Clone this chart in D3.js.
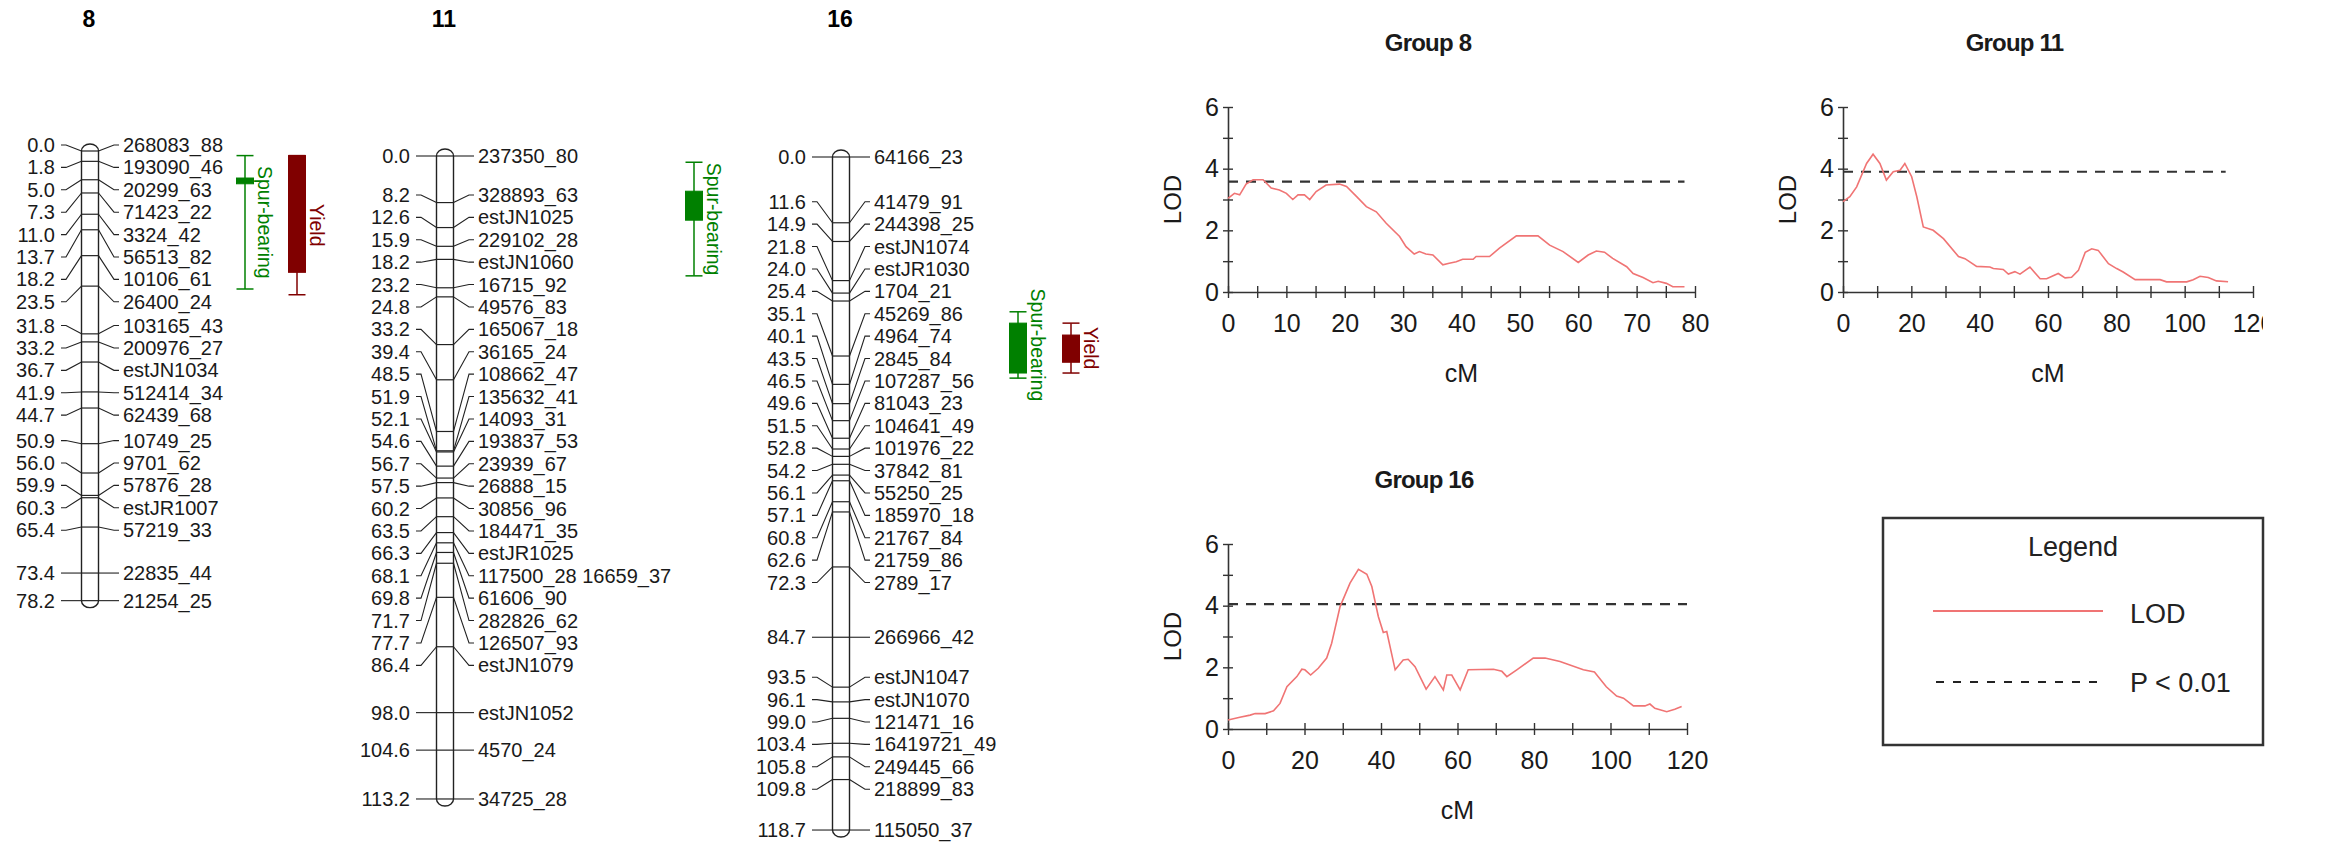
<!DOCTYPE html>
<html>
<head>
<meta charset="utf-8">
<script src="https://cdn.jsdelivr.net/npm/d3@7"></script>
<style>
  body { margin: 0; background: #fff; }
  svg { display: block; font-family: "Liberation Sans", Arial, sans-serif; }
</style>
</head>
<body>
<div id="chart"></div>
<script>
// ---- linkage group 8 ----
const group8Pos = [0.0, 1.8, 5.0, 7.3, 11.0, 13.7, 18.2, 23.5, 31.8, 33.2, 36.7, 41.9, 44.7, 50.9, 56.0, 59.9, 60.3, 65.4, 73.4, 78.2];
const group8Markers = ["268083_88", "193090_46", "20299_63", "71423_22", "3324_42", "56513_82", "10106_61", "26400_24",
  "103165_43", "200976_27", "estJN1034", "512414_34", "62439_68", "10749_25", "9701_62", "57876_28", "estJR1007",
  "57219_33", "22835_44", "21254_25"];

// ---- linkage group 11 ----
const group11Pos = [0.0, 8.2, 12.6, 15.9, 18.2, 23.2, 24.8, 33.2, 39.4, 48.5, 51.9, 52.1, 54.6, 56.7, 57.5, 60.2, 63.5,
  66.3, 68.1, 69.8, 71.7, 77.7, 86.4, 98.0, 104.6, 113.2];
const group11Markers = ["237350_80", "328893_63", "estJN1025", "229102_28", "estJN1060", "16715_92", "49576_83",
  "165067_18", "36165_24", "108662_47", "135632_41", "14093_31", "193837_53", "23939_67", "26888_15", "30856_96",
  "184471_35", "estJR1025", "117500_28 16659_37", "61606_90", "282826_62", "126507_93", "estJN1079", "estJN1052",
  "4570_24", "34725_28"];

// ---- linkage group 16 ----
const group16Pos = [0.0, 11.6, 14.9, 21.8, 24.0, 25.4, 35.1, 40.1, 43.5, 46.5, 49.6, 51.5, 52.8, 54.2, 56.1, 57.1, 60.8,
  62.6, 72.3, 84.7, 93.5, 96.1, 99.0, 103.4, 105.8, 109.8, 118.7];
const group16Markers = ["64166_23", "41479_91", "244398_25", "estJN1074", "estJR1030", "1704_21", "45269_86", "4964_74",
  "2845_84", "107287_56", "81043_23", "104641_49", "101976_22", "37842_81", "55250_25", "185970_18", "21767_84",
  "21759_86", "2789_17", "266966_42", "estJN1047", "estJN1070", "121471_16", "16419721_49", "249445_66", "218899_83",
  "115050_37"];

// ---- QTL intervals (cM): box = 1-LOD, whisker = 2-LOD ----
const qtlGroup = ["8", "8", "11", "16", "16"];
const qtlTrait = ["Spur-bearing", "Yield", "Spur-bearing", "Spur-bearing", "Yield"];
const qtlBoxFrom = [4.7, 0.8, 6.2, 29.3, 31.4];
const qtlBoxTo = [5.7, 21.1, 11.3, 38.1, 36.2];
const qtlWhiskerFrom = [0.8, 0.8, 1.1, 27.3, 29.3];
const qtlWhiskerTo = [24.0, 25.0, 21.1, 39.0, 38.1];

// ---- LOD profiles ----
const lod8cM = [0, 1.1, 2.0, 3.1, 4.3, 6.0, 7.4, 8.8, 10.0, 11.1, 12.0, 13.1, 14.0, 15.1, 16.8, 19.1, 20.3, 22.0, 23.7,
  25.4, 27.1, 29.4, 30.5, 31.9, 32.8, 33.9, 35.1, 36.8, 37.9, 39.1, 40.2, 42.0, 42.5, 44.8, 46.5, 49.4, 53.1, 55.1, 57.4,
  60.0, 61.7, 63.1, 64.5, 65.9, 68.3, 69.4, 71.1, 72.8, 73.7, 75.1, 76.2, 78.2];
const lod8 = [3.04, 3.2, 3.15, 3.5, 3.64, 3.64, 3.37, 3.31, 3.2, 3.0, 3.15, 3.15, 3.0, 3.26, 3.47, 3.5, 3.42, 3.1, 2.77,
  2.6, 2.23, 1.8, 1.47, 1.23, 1.31, 1.23, 1.2, 0.88, 0.93, 0.98, 1.06, 1.06, 1.15, 1.15, 1.42, 1.82, 1.82, 1.52, 1.31,
  0.96, 1.2, 1.33, 1.29, 1.09, 0.82, 0.6, 0.47, 0.3, 0.35, 0.28, 0.17, 0.17];

const lod11cM = [0, 2.0, 4.0, 6.9, 8.8, 10.8, 12.7, 14.7, 16.7, 18.1, 20.1, 21.6, 23.5, 26.4, 29.4, 33.8, 35.7, 39.1,
  43.0, 44.0, 46.9, 48.4, 50.3, 51.8, 54.7, 57.7, 59.6, 63.0, 65.0, 66.9, 68.9, 70.9, 72.8, 74.7, 77.7, 80.1, 82.0, 85.5,
  92.8, 94.7, 100.6, 102.5, 104.5, 106.9, 109.3, 112.7];
const lod11 = [2.93, 3.09, 3.41, 4.17, 4.47, 4.17, 3.63, 3.9, 3.95, 4.17, 3.74, 3.09, 2.11, 2.0, 1.73, 1.15, 1.08, 0.83,
  0.81, 0.76, 0.73, 0.58, 0.66, 0.58, 0.81, 0.43, 0.43, 0.6, 0.46, 0.48, 0.7, 1.29, 1.4, 1.35, 0.92, 0.76, 0.65, 0.4,
  0.4, 0.33, 0.33, 0.4, 0.51, 0.47, 0.36, 0.33];

const lod16cM = [0, 3.1, 5.8, 7.1, 9.7, 11.9, 13.6, 15.4, 18.0, 19.3, 20.1, 21.6, 23.6, 25.8, 27.1, 29.3, 31.9, 34.1,
  36.3, 37.6, 39.3, 40.6, 41.5, 43.7, 45.8, 47.1, 48.9, 51.8, 54.1, 56.3, 57.2, 58.5, 60.7, 62.8, 69.4, 71.6, 72.9, 75.5,
  79.8, 82.9, 86.8, 92.9, 95.8, 98.9, 101.6, 103.4, 106.0, 109.0, 110.3, 111.6, 114.7, 116.8, 118.6];
const lod16 = [0.29, 0.38, 0.45, 0.5, 0.5, 0.59, 0.83, 1.37, 1.7, 1.94, 1.92, 1.75, 1.97, 2.3, 2.78, 3.97, 4.73, 5.18,
  5.02, 4.62, 3.65, 3.13, 3.16, 1.92, 2.24, 2.26, 2.02, 1.29, 1.7, 1.27, 1.75, 1.75, 1.27, 1.92, 1.94, 1.87, 1.7, 1.92,
  2.3, 2.3, 2.19, 1.92, 1.85, 1.37, 1.07, 1.0, 0.75, 0.75, 0.81, 0.67, 0.56, 0.64, 0.73];

// P < 0.01 thresholds
const threshold8 = 3.58, threshold11 = 3.9, threshold16 = 4.05;

const legendLabels = ["LOD", "P < 0.01"];

const width = 2346, height = 842;
const lodColor = "#f07474";
const axisColor = "#333";
const traitColor = { "Spur-bearing": "#008000", "Yield": "#800000" };

const svg = d3.select("#chart").append("svg")
  .attr("width", width)
  .attr("height", height);

svg.append("rect").attr("width", width).attr("height", height).attr("fill", "#fff");

// spread labels so they don't overlap (pool adjacent violators, centred blocks)
function spreadLabels(ys, gap, minY) {
  const blocks = [];
  ys.forEach((y, i) => {
    const z = y - i * gap;
    let b = { start: i, end: i, max: z, min: z, val: z };
    while (blocks.length && blocks[blocks.length - 1].val > b.val) {
      const p = blocks.pop();
      b = { start: p.start, end: b.end, max: Math.max(p.max, b.max), min: Math.min(p.min, b.min) };
      b.val = (b.max + b.min) / 2;
    }
    blocks.push(b);
  });
  const out = [];
  blocks.forEach(b => {
    const q = Math.max(b.val, minY);
    for (let i = b.start; i <= b.end; i++) out[i] = q + i * gap;
  });
  return out;
}

const maps = [
  { name: "8", pos: group8Pos, markers: group8Markers, cx: 90, top: 151, pxPerCM: 5.75, font: 20, gap: 22.4,
    qtlX: { "Spur-bearing": 155, "Yield": 207 } },
  { name: "11", pos: group11Pos, markers: group11Markers, cx: 445, top: 156, pxPerCM: 5.68, font: 20, gap: 22.4,
    qtlX: { "Spur-bearing": 249 } },
  { name: "16", pos: group16Pos, markers: group16Markers, cx: 841, top: 157, pxPerCM: 5.67, font: 20, gap: 22.4,
    qtlX: { "Spur-bearing": 177, "Yield": 230 } }
];

maps.forEach(m => drawLinkageGroup(m));
function drawLinkageGroup(m) {
  const barW = 17;
  const maxPos = d3.max(m.pos);
  const y = d3.scaleLinear().domain([0, maxPos]).range([m.top, m.top + maxPos * m.pxPerCM]);
  const g = svg.append("g");

  g.append("text")
    .attr("x", m.cx - 1)
    .attr("y", 27)
    .attr("text-anchor", "middle")
    .attr("font-weight", "bold")
    .attr("font-size", 23)
    .text(m.name);

  // chromosome bar
  g.append("rect")
    .attr("x", m.cx - barW / 2)
    .attr("y", y(0) - 7)
    .attr("width", barW)
    .attr("height", y(maxPos) - y(0) + 14)
    .attr("rx", barW / 2)
    .attr("ry", 7)
    .attr("fill", "#fff")
    .attr("stroke", "#222")
    .attr("stroke-width", 1.4);

  const labelY = spreadLabels(m.pos.map(d => y(d)), m.gap, y(0) - 6);

  m.pos.forEach((p, i) => {
    const my = y(p), ly = labelY[i];
    g.append("line")
      .attr("x1", m.cx - barW / 2).attr("x2", m.cx + barW / 2)
      .attr("y1", my).attr("y2", my)
      .attr("stroke", "#222").attr("stroke-width", 1.2);
    g.append("path")
      .attr("d", `M${m.cx - 29},${ly}H${m.cx - 24}L${m.cx - barW / 2},${my}`)
      .attr("fill", "none").attr("stroke", "#222").attr("stroke-width", 1.1);
    g.append("path")
      .attr("d", `M${m.cx + barW / 2},${my}L${m.cx + 24},${ly}H${m.cx + 29}`)
      .attr("fill", "none").attr("stroke", "#222").attr("stroke-width", 1.1);
    g.append("text")
      .attr("x", m.cx - 35).attr("y", ly).attr("dy", "0.35em")
      .attr("text-anchor", "end")
      .attr("font-size", m.font)
      .attr("fill", "#1a1a1a")
      .text(p.toFixed(1));
    g.append("text")
      .attr("x", m.cx + 33).attr("y", ly).attr("dy", "0.35em")
      .attr("font-size", m.font)
      .attr("fill", "#1a1a1a")
      .text(m.markers[i]);
  });

  // QTL bars
  qtlGroup.forEach((grp, i) => {
    if (grp !== m.name) return;
    const trait = qtlTrait[i];
    const col = traitColor[trait];
    const qx = m.cx + m.qtlX[trait];
    const bw = 17;
    const w0 = y(qtlWhiskerFrom[i]), w1 = y(qtlWhiskerTo[i]);
    g.append("line").attr("x1", qx).attr("x2", qx).attr("y1", w0).attr("y2", w1)
      .attr("stroke", col).attr("stroke-width", 1.5);
    [w0, w1].forEach(wy => {
      g.append("line").attr("x1", qx - bw / 2).attr("x2", qx + bw / 2).attr("y1", wy).attr("y2", wy)
        .attr("stroke", col).attr("stroke-width", 1.5);
    });
    g.append("rect")
      .attr("x", qx - bw / 2)
      .attr("y", y(qtlBoxFrom[i]))
      .attr("width", bw)
      .attr("height", y(qtlBoxTo[i]) - y(qtlBoxFrom[i]))
      .attr("fill", col)
      .attr("stroke", col);
    const ty = (w0 + w1) / 2;
    g.append("text")
      .attr("transform", `translate(${qx + 20},${ty}) rotate(90)`)
      .attr("text-anchor", "middle")
      .attr("dy", "0.35em")
      .attr("font-size", m.font - 0.5)
      .attr("fill", col)
      .text(trait);
  });
}

// ---- LOD panels ----
svg.append("clipPath").attr("id", "edge")
  .append("rect").attr("x", 0).attr("y", 0).attr("width", 2263).attr("height", height);

const panels = [
  { title: "Group 8", cM: lod8cM, lod: lod8, thr: threshold8, left: 1228, right: 1695, top: 107, bottom: 292,
    xMax: 80, step: 5, labelStep: 10, thrEnd: 78.2 },
  { title: "Group 11", cM: lod11cM, lod: lod11, thr: threshold11, left: 1843, right: 2253, top: 107, bottom: 292,
    xMax: 120, step: 10, labelStep: 20, thrEnd: 112, clip: true },
  { title: "Group 16", cM: lod16cM, lod: lod16, thr: threshold16, left: 1228, right: 1687, top: 544, bottom: 729,
    xMax: 120, step: 10, labelStep: 20, thrEnd: 120 }
];

panels.forEach(p => drawLodPanel(p));
function drawLodPanel(p) {
  const g = svg.append("g");
  if (p.clip) g.attr("clip-path", "url(#edge)");

  const x = d3.scaleLinear().domain([0, p.xMax]).range([p.left, p.right]);
  const y = d3.scaleLinear().domain([0, 6]).range([p.bottom, p.top]);

  g.append("text")
    .attr("x", (p.left - 67 + p.right) / 2)
    .attr("y", p.top - 56)
    .attr("text-anchor", "middle")
    .attr("font-weight", "bold")
    .attr("font-size", 24)
    .attr("letter-spacing", -0.8)
    .attr("fill", "#1a1a1a")
    .text(p.title);

  const gx = g.append("g")
    .attr("transform", `translate(0,${p.bottom})`)
    .call(d3.axisBottom(x)
      .tickValues(d3.range(0, p.xMax + 0.1, p.step))
      .tickSizeOuter(0)
      .tickFormat(d => d % p.labelStep === 0 ? d : ""));
  gx.select(".domain").attr("stroke", axisColor).attr("stroke-width", 1.6);
  gx.selectAll(".tick line").attr("y1", -6).attr("y2", 6).attr("stroke", axisColor).attr("stroke-width", 1.4);
  gx.selectAll(".tick text")
    .attr("y", 22).attr("font-size", 25).attr("fill", "#1a1a1a")
    .attr("font-family", "Liberation Sans, Arial, sans-serif");

  const gy = g.append("g")
    .attr("transform", `translate(${p.left},0)`)
    .call(d3.axisLeft(y)
      .tickValues(d3.range(0, 7))
      .tickSizeOuter(0)
      .tickFormat(d => d % 2 === 0 ? d : ""));
  gy.select(".domain").attr("stroke", axisColor).attr("stroke-width", 1.6);
  gy.selectAll(".tick line").attr("x1", 5).attr("x2", -5).attr("stroke", axisColor).attr("stroke-width", 1.4);
  gy.selectAll(".tick text")
    .attr("x", -9).attr("font-size", 25).attr("fill", "#1a1a1a")
    .attr("font-family", "Liberation Sans, Arial, sans-serif");

  g.append("text")
    .attr("transform", `translate(${p.left - 55},${(p.top + p.bottom) / 2}) rotate(-90)`)
    .attr("text-anchor", "middle")
    .attr("dy", "0.35em")
    .attr("font-size", 24)
    .attr("fill", "#1a1a1a")
    .text("LOD");

  g.append("text")
    .attr("x", (p.left + p.right) / 2)
    .attr("y", p.bottom + 90)
    .attr("text-anchor", "middle")
    .attr("font-size", 25)
    .attr("fill", "#1a1a1a")
    .text("cM");

  g.append("line")
    .attr("x1", x(0)).attr("x2", x(p.thrEnd))
    .attr("y1", y(p.thr)).attr("y2", y(p.thr))
    .attr("stroke", "#333")
    .attr("stroke-width", 2.2)
    .attr("stroke-dasharray", "10,8");

  const line = d3.line()
    .x((d, i) => x(p.cM[i]))
    .y(d => y(d));

  g.append("path")
    .datum(p.lod)
    .attr("fill", "none")
    .attr("stroke", lodColor)
    .attr("stroke-width", 1.6)
    .attr("d", line);
}

// ---- legend ----
const lg = svg.append("g");
lg.append("rect")
  .attr("x", 1883).attr("y", 518)
  .attr("width", 380).attr("height", 227)
  .attr("fill", "none")
  .attr("stroke", "#333")
  .attr("stroke-width", 2.5);
lg.append("text")
  .attr("x", 2073).attr("y", 547).attr("dy", "0.35em")
  .attr("text-anchor", "middle")
  .attr("font-size", 27)
  .attr("fill", "#222")
  .text("Legend");
lg.append("line")
  .attr("x1", 1933).attr("x2", 2103).attr("y1", 611).attr("y2", 611)
  .attr("stroke", lodColor).attr("stroke-width", 2);
lg.append("line")
  .attr("x1", 1936).attr("x2", 2103).attr("y1", 682).attr("y2", 682)
  .attr("stroke", "#222").attr("stroke-width", 2)
  .attr("stroke-dasharray", "8,9");
legendLabels.forEach((t, i) => {
  lg.append("text")
    .attr("x", 2130).attr("y", 614 + i * 69).attr("dy", "0.35em")
    .attr("font-size", 27)
    .attr("fill", "#222")
    .text(t);
});
</script>
</body>
</html>
